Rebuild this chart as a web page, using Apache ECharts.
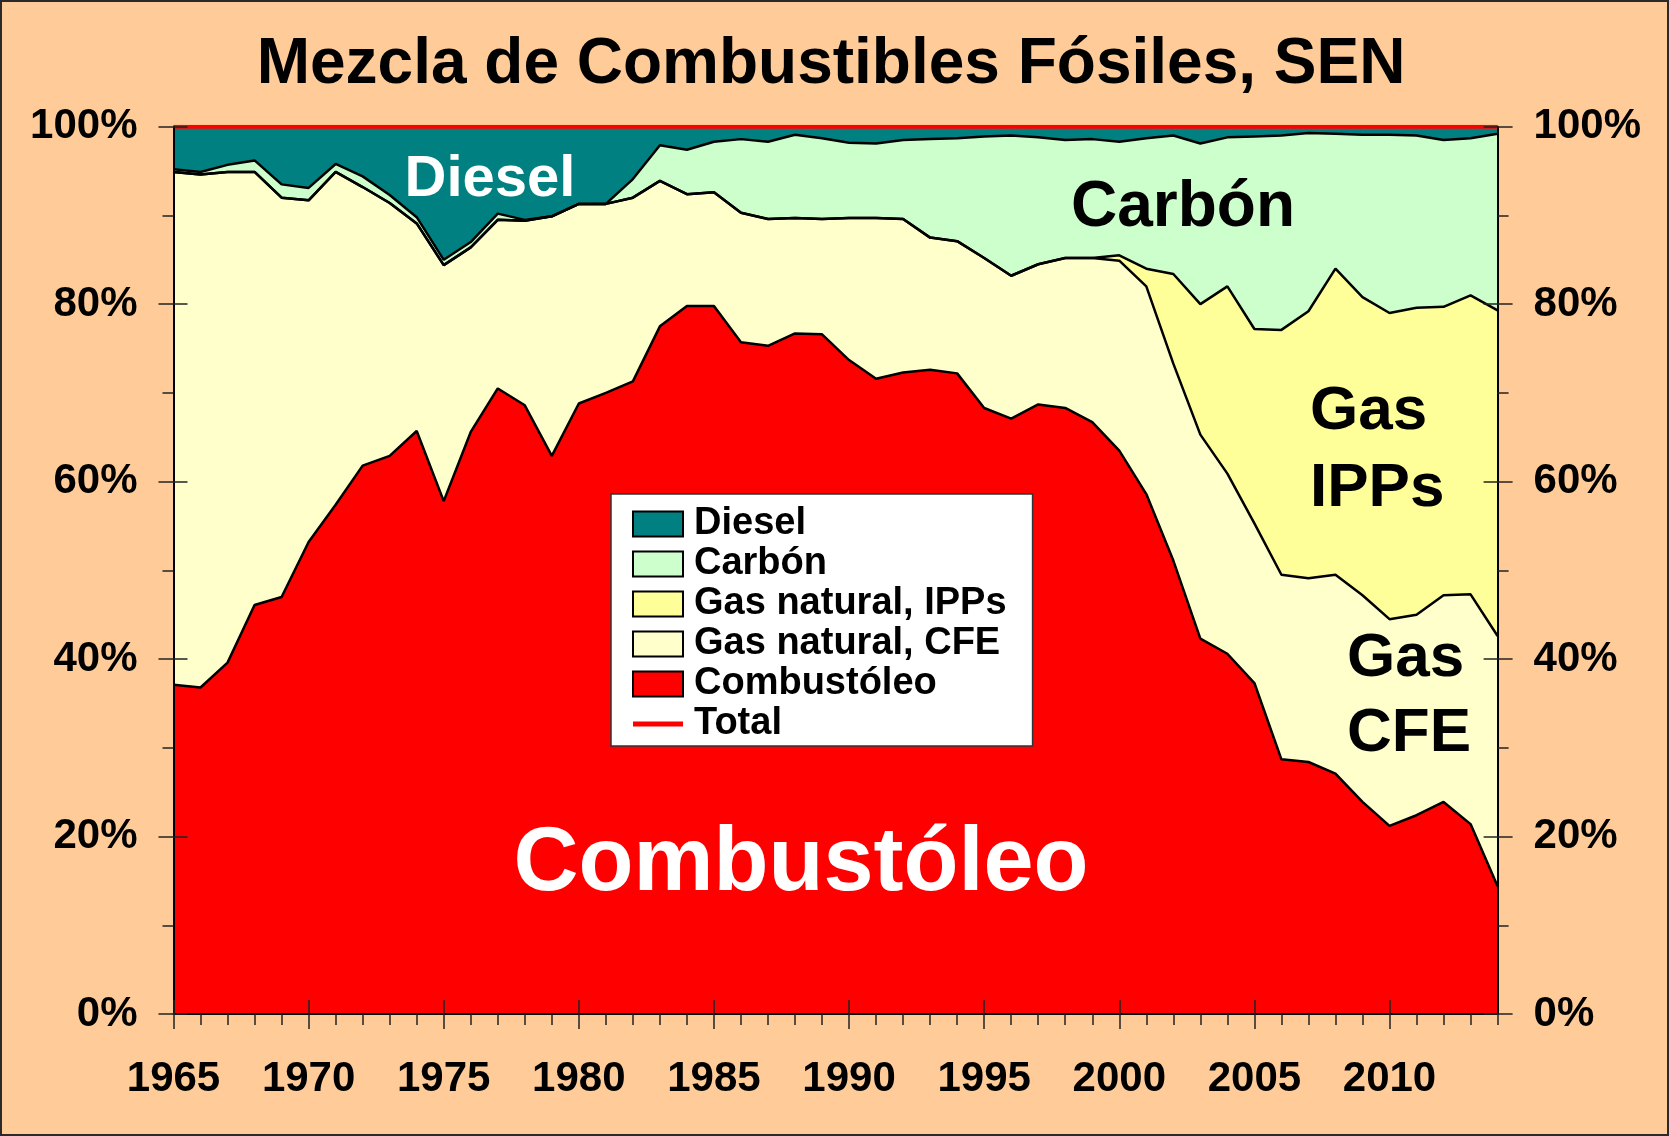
<!DOCTYPE html>
<html>
<head>
<meta charset="utf-8">
<title>Mezcla de Combustibles Fósiles, SEN</title>
<script src="https://cdn.jsdelivr.net/npm/echarts@6/dist/echarts.min.js"></script>
<style>
    html, body { margin: 0; padding: 0; background: #FFCC99; }
    .chart { width: 1669px; height: 1136px; }
</style>
</head>
<body>
<div class="chart"></div>
<script>
// años y participación (%) de cada combustible
var years = ["1965","1966","1967","1968","1969","1970","1971","1972","1973","1974",
             "1975","1976","1977","1978","1979","1980","1981","1982","1983","1984",
             "1985","1986","1987","1988","1989","1990","1991","1992","1993","1994",
             "1995","1996","1997","1998","1999","2000","2001","2002","2003","2004",
             "2005","2006","2007","2008","2009","2010","2011","2012","2013","2014"];
var combustoleo = [37.1,36.8,39.6,46.1,47.0,53.2,57.4,61.8,62.9,65.7,
                   57.8,65.6,70.5,68.6,62.9,68.8,70.0,71.3,77.5,79.8,
                   79.8,75.7,75.3,76.7,76.6,73.7,71.6,72.3,72.6,72.2,
                   68.3,67.1,68.7,68.3,66.7,63.5,58.6,51.1,42.3,40.6,
                   37.3,28.7,28.4,27.1,23.9,21.2,22.4,23.9,21.4,14.4];
var gasCFE = [57.8,57.8,55.3,48.8,45.0,38.5,37.5,31.4,28.5,23.4,
              26.6,20.8,19.0,20.8,27.0,22.5,21.3,20.7,16.4,12.6,
              12.8,14.6,14.3,13.0,13.0,16.0,18.1,17.3,14.9,14.9,
              16.9,16.1,15.8,16.9,18.5,21.4,23.4,22.2,23.0,20.3,
              18.0,20.8,20.7,22.4,23.3,23.3,22.6,23.3,25.9,28.2];
var gasIPP = [0,0,0,0,0,0,0,0,0,0,
              0,0,0,0,0,0,0,0,0,0,
              0,0,0,0,0,0,0,0,0,0,
              0,0,0,0,0,0.6,2.0,10.1,14.7,21.1,
              21.9,27.6,30.1,34.5,33.6,34.5,34.6,32.5,33.7,36.7];
var carbon = [0.3,0.3,0.8,1.3,1.5,1.4,0.9,1.2,0.9,0.7,
              0.6,0.6,0.7,0.1,0,0,0,2.1,4.0,5.0,
              5.7,8.3,8.7,9.4,9.1,8.5,8.4,8.9,11.1,11.6,
              13.7,15.8,14.3,13.3,13.4,12.8,14.7,15.6,18.1,16.8,
              21.7,21.9,20.1,15.2,18.3,20.1,19.4,18.8,17.7,19.9];
var diesel = [4.8,5.1,4.3,3.8,6.5,6.9,4.2,5.6,7.7,10.2,
              15.0,13.0,9.8,10.5,10.1,8.7,8.7,5.9,2.1,2.6,
              1.7,1.4,1.7,0.9,1.3,1.8,1.9,1.5,1.4,1.3,
              1.1,1.0,1.2,1.5,1.4,1.7,1.3,1.0,1.9,1.2,
              1.1,1.0,0.7,0.8,0.9,0.9,1.0,1.5,1.3,0.8];
var total = [100,100,100,100,100,100,100,100,100,100,
             100,100,100,100,100,100,100,100,100,100,
             100,100,100,100,100,100,100,100,100,100,
             100,100,100,100,100,100,100,100,100,100,
             100,100,100,100,100,100,100,100,100,100];

(function(){
    var FONT = '"Liberation Sans", Arial, sans-serif';
    var myChart = echarts.init(document.querySelector(".chart"));

    // capas de abajo hacia arriba
    var layers = [
        {name:'Combustóleo', data:combustoleo, color:'#FF0000'},
        {name:'Gas natural, CFE', data:gasCFE, color:'#FFFFCC'},
        {name:'Gas natural, IPPs', data:gasIPP, color:'#FFFF99'},
        {name:'Carbón', data:carbon, color:'#CCFFCC'},
        {name:'Diesel', data:diesel, color:'#008080'}
    ];

    var series = [];
    layers.forEach(function(l){
        series.push({
            name: l.name,
            type: 'line',
            stack: 'area',
            data: l.data,
            symbol: 'none',
            lineStyle: {width: 0},
            itemStyle: {color: l.color},
            areaStyle: {color: l.color, opacity: 1},
            z: 2
        });
    });
    // bordes negros de cada capa
    layers.forEach(function(l, i){
        series.push({
            name: 'borde' + i,
            type: 'line',
            stack: 'edge',
            data: l.data,
            symbol: 'none',
            lineStyle: {color: '#000', width: 2.5},
            z: 3
        });
    });
    series.push({
        name: 'Total',
        type: 'line',
        data: total,
        symbol: 'none',
        itemStyle: {color: '#FF0000'},
        lineStyle: {color: '#FF0000', width: 4},
        z: 4
    });

    var tickColor = '#222';
    function yAxisBase(pos, extra){
        var a = {
            type: 'value', position: pos, min: 0, max: 100, interval: 20,
            axisLine: {show: false},
            axisLabel: {show: false},
            splitLine: {show: false},
            axisTick: {show: true, lineStyle: {color: tickColor, width: 1.5}},
            z: 10
        };
        for (var k in extra) a[k] = extra[k];
        return a;
    }
    function xAxisBase(extra){
        var a = {
            type: 'category', position: 'bottom', data: years, boundaryGap: false,
            axisLine: {show: false},
            axisLabel: {show: false},
            splitLine: {show: false},
            z: 10
        };
        for (var k in extra) a[k] = extra[k];
        return a;
    }
    var pctLabel = {
        show: true, color: '#000', fontSize: 42, fontWeight: 'bold', fontFamily: FONT,
        margin: 36,
        formatter: function(v){ return v % 20 === 0 ? v + '%' : ''; }
    };

    var option = {
        backgroundColor: '#FFCC99',
        animation: false,
        grid: {left: 173.5, right: 171.4, top: 126.7, bottom: 122, containLabel: false},
        legend: {
            orient: 'vertical',
            left: 611, top: 494,
            padding: [11, 26, 3, 21],
            itemWidth: 50, itemHeight: 25, itemGap: 2,
            backgroundColor: '#FFFFFF',
            borderColor: '#333', borderWidth: 1.5,
            selectedMode: false,
            textStyle: {color: '#000', fontSize: 38, fontWeight: 'bold', fontFamily: FONT,
                        padding: [0, 0, 0, 6]},
            data: [
                {name:'Diesel', icon:'rect', itemStyle:{color:'#008080', borderColor:'#000', borderWidth:2}},
                {name:'Carbón', icon:'rect', itemStyle:{color:'#CCFFCC', borderColor:'#000', borderWidth:2}},
                {name:'Gas natural, IPPs', icon:'rect', itemStyle:{color:'#FFFF99', borderColor:'#000', borderWidth:2}},
                {name:'Gas natural, CFE', icon:'rect', itemStyle:{color:'#FFFFCC', borderColor:'#000', borderWidth:2}},
                {name:'Combustóleo', icon:'rect', itemStyle:{color:'#FF0000', borderColor:'#000', borderWidth:2}},
                {name:'Total', icon:'path://M0,0H50V5H0Z', itemStyle:{color:'#FF0000', borderWidth:0}}
            ]
        },
        xAxis: [
            xAxisBase({
                axisLine: {show: true, lineStyle: {color: '#000', width: 2}},
                axisTick: {show: true, interval: 0, length: 11, lineStyle: {color: tickColor, width: 1.5}},
                axisLabel: {show: true, interval: 4, color: '#000', fontSize: 42, fontWeight: 'bold',
                            fontFamily: FONT, margin: 44}
            }),
            xAxisBase({axisTick: {show: true, interval: 4, length: 15, lineStyle: {color: tickColor, width: 1.5}}}),
            xAxisBase({axisTick: {show: true, interval: 4, inside: true, length: 14, lineStyle: {color: tickColor, width: 1.5}}})
        ],
        yAxis: [
            yAxisBase('left', {
                interval: 10,
                axisLine: {show: true, lineStyle: {color: '#000', width: 2}},
                axisTick: {show: true, length: 11, lineStyle: {color: tickColor, width: 1.5}},
                axisLabel: pctLabel
            }),
            yAxisBase('left', {axisTick: {show: true, length: 15, lineStyle: {color: tickColor, width: 1.5}}}),
            yAxisBase('left', {axisTick: {show: true, inside: true, length: 14, lineStyle: {color: tickColor, width: 1.5}}}),
            yAxisBase('right', {
                interval: 10,
                axisLine: {show: true, lineStyle: {color: '#000', width: 2}},
                axisTick: {show: true, length: 11, lineStyle: {color: tickColor, width: 1.5}},
                axisLabel: pctLabel
            }),
            yAxisBase('right', {axisTick: {show: true, length: 15, lineStyle: {color: tickColor, width: 1.5}}}),
            yAxisBase('right', {axisTick: {show: true, inside: true, length: 14, lineStyle: {color: tickColor, width: 1.5}}})
        ],
        graphic: [
            {type:'rect', shape:{x:1, y:1, width:1667, height:1134},
             style:{fill:'none', stroke:'#2a2a2a', lineWidth:2}, z:100},
            {type:'text', x:831, y:65, z:100,
             style:{text:'Mezcla de Combustibles Fósiles, SEN', fill:'#000', font:'bold 64px ' + FONT,
                    textAlign:'center', textVerticalAlign:'middle'}},
            {type:'text', x:490, y:180, z:100,
             style:{text:'Diesel', fill:'#FFFFFF', font:'bold 58px ' + FONT,
                    textAlign:'center', textVerticalAlign:'middle'}},
            {type:'text', x:1183, y:208, z:100,
             style:{text:'Carbón', fill:'#000', font:'bold 64px ' + FONT,
                    textAlign:'center', textVerticalAlign:'middle'}},
            {type:'text', x:1310, y:412, z:100,
             style:{text:'Gas', fill:'#000', font:'bold 62px ' + FONT,
                    textAlign:'left', textVerticalAlign:'middle'}},
            {type:'text', x:1310, y:489, z:100,
             style:{text:'IPPs', fill:'#000', font:'bold 62px ' + FONT,
                    textAlign:'left', textVerticalAlign:'middle'}},
            {type:'text', x:1347, y:659, z:100,
             style:{text:'Gas', fill:'#000', font:'bold 62px ' + FONT,
                    textAlign:'left', textVerticalAlign:'middle'}},
            {type:'text', x:1347, y:734, z:100,
             style:{text:'CFE', fill:'#000', font:'bold 62px ' + FONT,
                    textAlign:'left', textVerticalAlign:'middle'}},
            {type:'text', x:801, y:865, z:100,
             style:{text:'Combustóleo', fill:'#FFFFFF', font:'bold 90px ' + FONT,
                    textAlign:'center', textVerticalAlign:'middle'}}
        ],
        series: series
    };
    myChart.setOption(option);
    window.addEventListener("resize",function(){
        myChart.resize();
    });
})();
</script>
</body>
</html>
